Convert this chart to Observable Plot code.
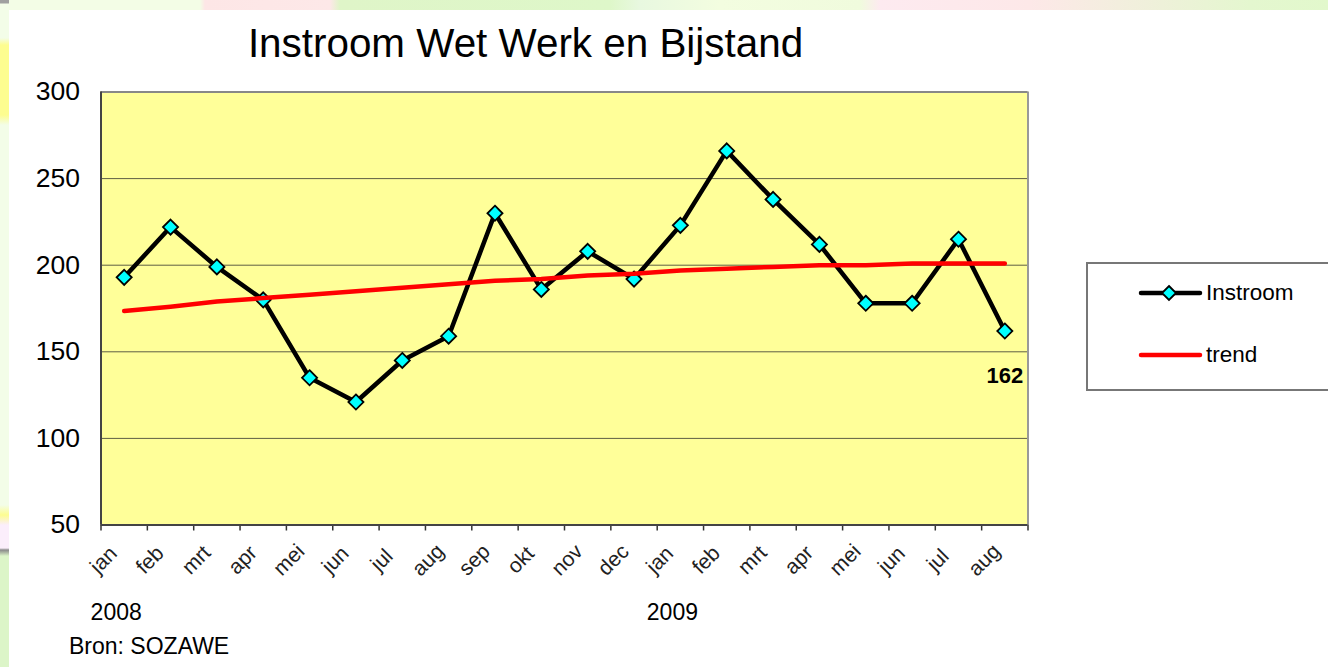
<!DOCTYPE html>
<html>
<head>
<meta charset="utf-8">
<script src="https://cdn.jsdelivr.net/npm/d3@7"></script>
<script src="https://cdn.jsdelivr.net/npm/@observablehq/plot@0.6"></script>
<style>
html,body{margin:0;padding:0;width:1328px;height:667px;overflow:hidden;font-family:"Liberation Sans",Arial,sans-serif;}
#bg{position:absolute;left:0;top:0;width:1328px;height:667px;
 background:linear-gradient(90deg,#f3fde6 0,#f3fde6 200px,#fde6e6 205px,#fde8e8 330px,#dff5c8 340px,#def7c9 610px,#e8f8e0 640px,#f3fde0 720px,#f0fbdd 860px,#fdeaf0 880px,#fde8e8 1030px,#e4f7cf 1250px,#e2f8cc 1328px);}
#left{position:absolute;left:0;top:0;width:9px;height:667px;
 background:linear-gradient(180deg,#a0a0a0 0,#a0a0a0 3px,#f3fde8 4px,#f3fde8 38px,#fdfd90 45px,#fdfd90 115px,#f3fde8 125px,#f3fde8 505px,#fdfd90 515px,#fbeefb 525px,#fbeefb 548px,#8a8a8a 550px,#dcf5c8 556px,#dcf5c8 667px);}
#panel{position:absolute;left:9px;top:10px;right:0;bottom:0;background:#fff;}
#chart{position:absolute;left:0;top:0;}
#chart svg{background:transparent;display:block;}
#legend{position:absolute;left:1086px;top:262px;width:250px;height:125px;border:2px solid #777;background:#fff;box-sizing:content-box;}
#legend svg{position:absolute;left:0;top:0;}
#legend span{position:absolute;left:118px;font-size:22.5px;color:#000;line-height:26px;}
</style>
</head>
<body>
<div id="bg"></div>
<div id="left"></div>
<div id="panel"></div>
<div id="chart"></div>
<div id="legend">
  <svg width="240" height="125">
    <line x1="53" x2="112" y1="29" y2="29" stroke="#000" stroke-width="4.5" stroke-linecap="round"/>
    <path d="M81 22 L88 29 L81 36 L74 29 Z" fill="#00ffff" stroke="#000" stroke-width="1.8"/>
    <line x1="53" x2="112" y1="91" y2="91" stroke="#f00" stroke-width="4.5" stroke-linecap="round"/>
  </svg>
  <span style="top:16px">Instroom</span>
  <span style="top:78px">trend</span>
</div>
<script>
const title = "Instroom Wet Werk en Bijstand";
const source = "Bron: SOZAWE";
const months = ["jan","feb","mrt","apr","mei","jun","jul","aug","sep","okt","nov","dec","jan","feb","mrt","apr","mei","jun","jul","aug"];
const instroom = [193,222,199,180,135,121,145,159,230,186,208,192,223,266,238,212,178,178,215,162];
const trend = [173.5,176,179,181,183,185,187,189,191,192,194,195,197,198,199,200,200,201,201,201];
const years = [{label:"2008",at:0},{label:"2009",at:12}];
const yTicks = [50,100,150,200,250,300];
const grid = [100,150,200,250];
const lastLabel = "162";

const pos = i => i + 0.5;
const rows = months.map((m,i)=>({i:pos(i),month:m,instroom:instroom[i],trend:trend[i]}));
const edges = d3.range(months.length + 1);
const font = '"Liberation Sans", Arial, sans-serif';

const chart = Plot.plot({
  width:1328, height:667,
  marginLeft:100.5, marginRight:300.5, marginTop:91.5, marginBottom:142.5,
  style:{background:"transparent",fontFamily:font,color:"#000"},
  x:{domain:[0,months.length],axis:null},
  y:{domain:[50,300],axis:null},
  marks:[
    Plot.rect([0],{x1:0,x2:months.length,y1:50,y2:300,fill:"#ffff99"}),
    Plot.ruleY(grid,{stroke:"#5f5f45",strokeWidth:1}),
    Plot.ruleX([months.length],{stroke:"#999",strokeWidth:2}),
    Plot.ruleY([300],{stroke:"#888",strokeWidth:2}),
    Plot.axisX({ticks:edges,tickSize:6,tickFormat:()=>"",stroke:"#333",strokeWidth:1.5,anchor:"bottom",label:null}),
    Plot.axisY({ticks:yTicks,tickSize:0,tickPadding:21,fontSize:26.5,anchor:"left",label:null,fill:"#000"}),
    Plot.ruleX([0],{stroke:"#444",strokeWidth:2}),
    Plot.ruleY([50],{stroke:"#444",strokeWidth:2}),
    Plot.line(rows,{x:"i",y:"instroom",stroke:"#000",strokeWidth:4.5,strokeLinejoin:"miter"}),
    Plot.dot(rows,{x:"i",y:"instroom",symbol:"diamond2",r:6.8,fill:"#00ffff",stroke:"#000",strokeWidth:1.8}),
    Plot.line(rows,{x:"i",y:"trend",stroke:"#f00",strokeWidth:4.5}),
    Plot.text([rows[rows.length-1]],{x:"i",y:"instroom",text:()=>lastLabel,dy:45,fontSize:22,fontWeight:"bold",fill:"#000"}),
    Plot.text(rows,{x:"i",text:"month",frameAnchor:"bottom",lineAnchor:"middle",dx:-20.5,dy:35,rotate:-45,fontSize:21,fill:"#222"}),
    Plot.text(years,{x:d=>pos(d.at),text:"label",frameAnchor:"bottom",lineAnchor:"middle",dx:-8,dy:88,fontSize:23,fill:"#000"}),
    Plot.text([title],{frameAnchor:"top",lineAnchor:"middle",dx:-39,dy:-48,fontSize:40.4,fill:"#000"}),
    Plot.text([source],{frameAnchor:"bottom-left",lineAnchor:"middle",dx:-32,dy:122,fontSize:23,fill:"#000"})
  ]
});
document.getElementById("chart").appendChild(chart);
</script>
</body>
</html>
